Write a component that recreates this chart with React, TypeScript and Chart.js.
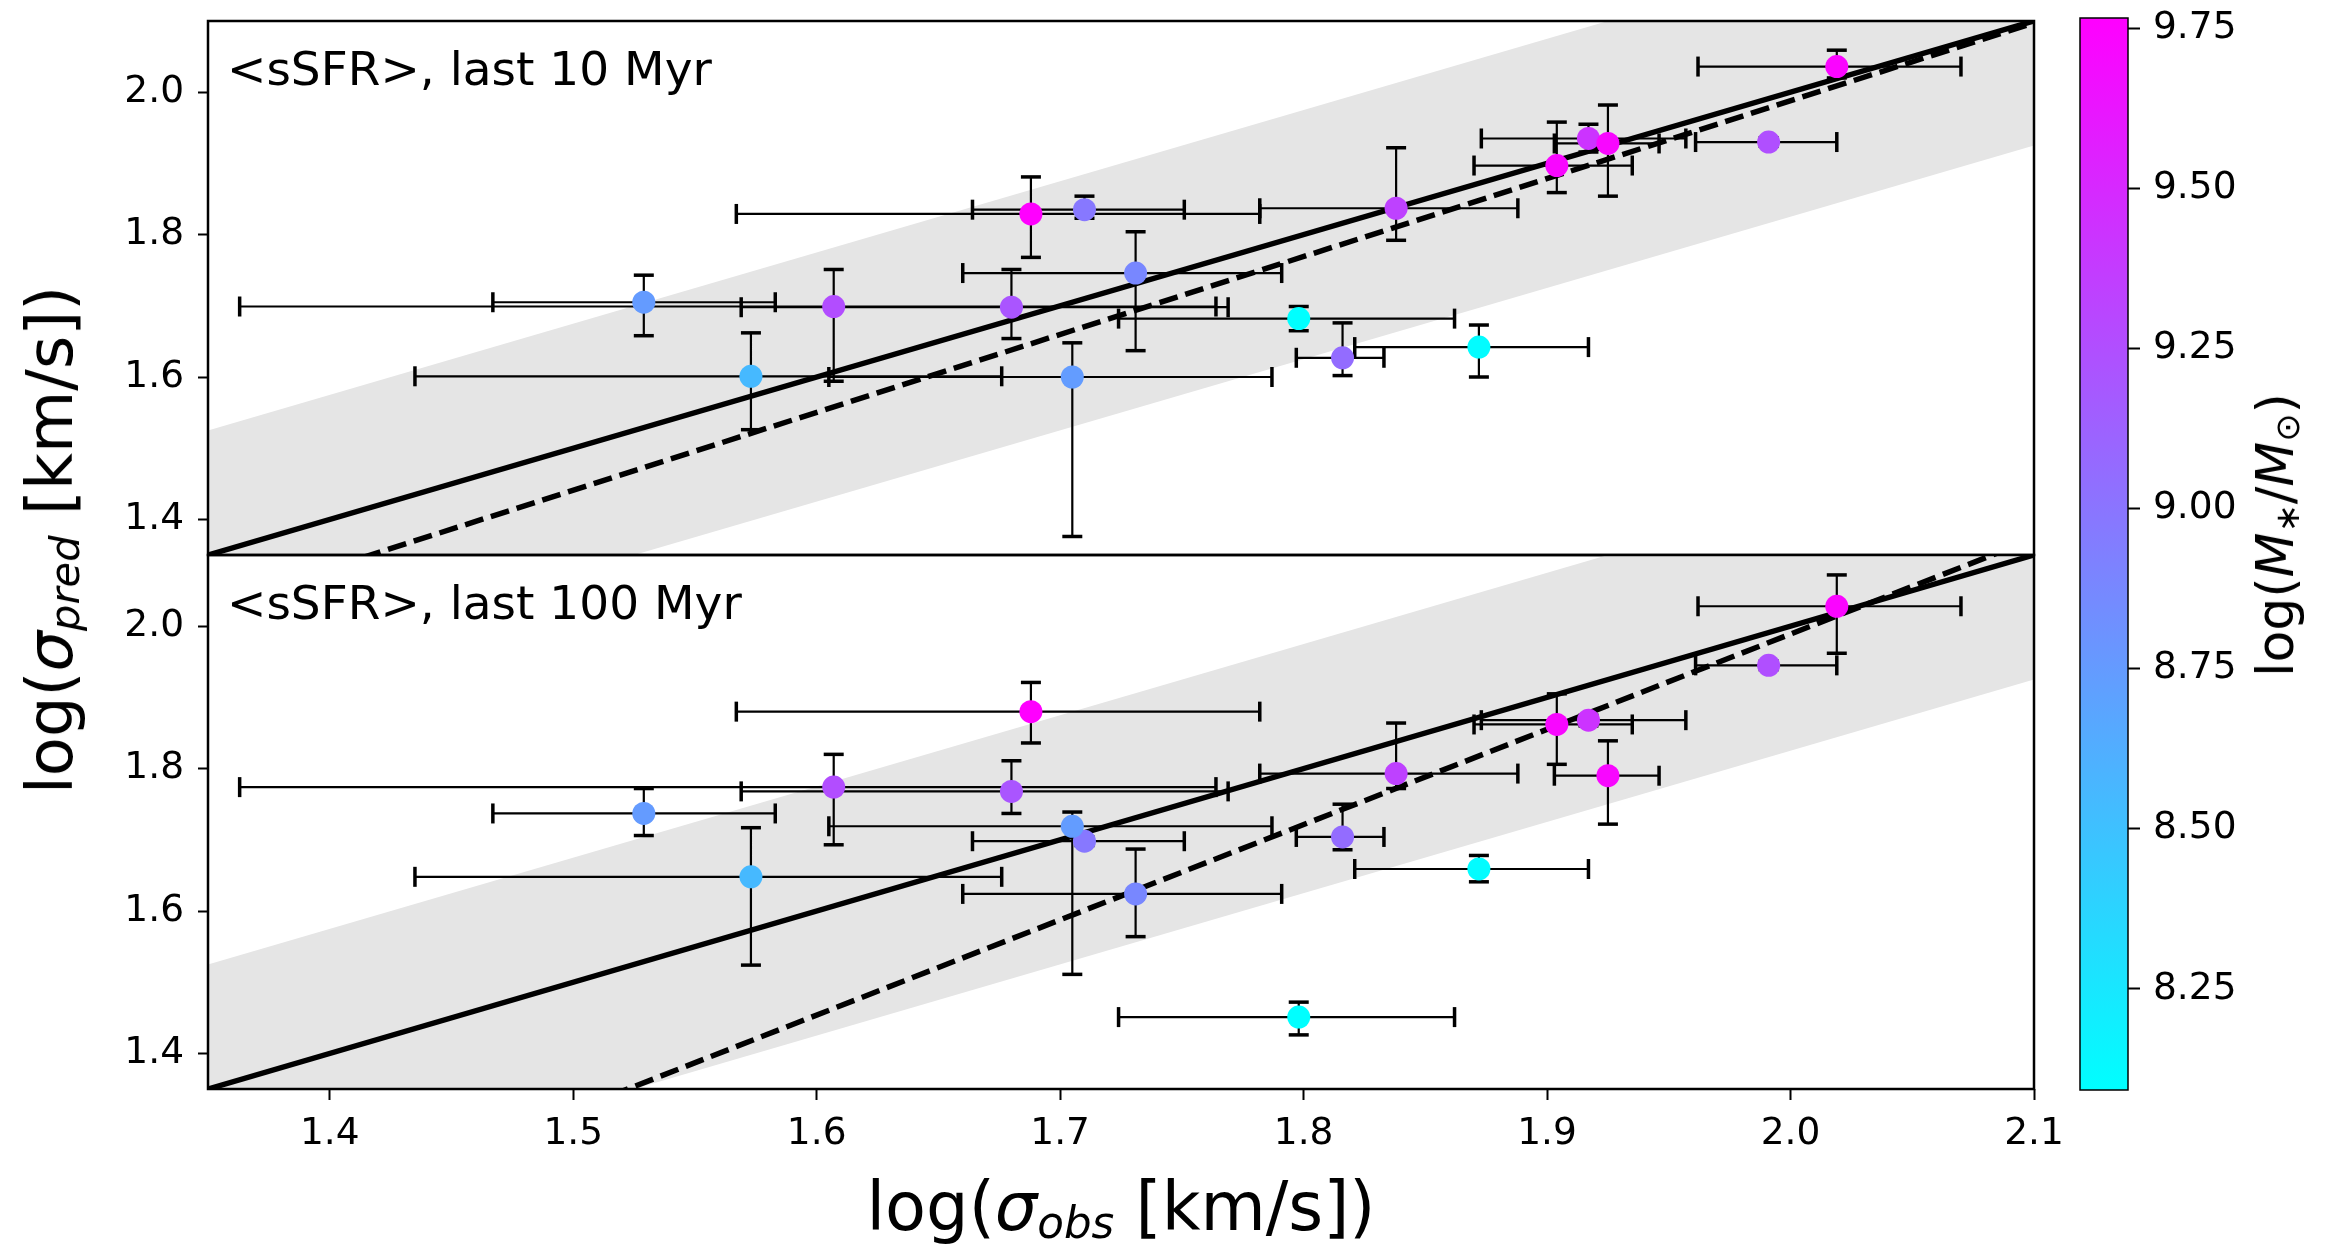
import React, { useEffect, useRef } from 'react';
import { Chart, registerables } from 'chart.js';

Chart.register(...registerables);

const FONT = '"DejaVu Sans", sans-serif';

// Axis range shared by σ_obs and σ_pred (log km/s)
const AXIS_MIN = 1.35;
const AXIS_MAX = 2.1;
const X_TICKS = [1.4, 1.5, 1.6, 1.7, 1.8, 1.9, 2.0, 2.1];
const Y_TICKS = [1.4, 1.6, 1.8, 2.0];
const MASS_TICKS = [8.25, 8.5, 8.75, 9.0, 9.25, 9.5, 9.75];

// Observed velocity dispersion and its error-bar ends
const SIGMA_OBS = [1.529, 1.573, 1.607, 1.688, 1.68, 1.71, 1.705, 1.731, 1.798, 1.816, 1.838, 1.872, 1.904, 1.917, 1.925, 1.991, 2.019];
const SIGMA_OBS_LO = [1.467, 1.435, 1.363, 1.567, 1.569, 1.664, 1.605, 1.66, 1.724, 1.797, 1.782, 1.821, 1.87, 1.873, 1.903, 1.961, 1.962];
const SIGMA_OBS_HI = [1.583, 1.676, 1.764, 1.782, 1.769, 1.751, 1.787, 1.791, 1.862, 1.833, 1.888, 1.917, 1.935, 1.957, 1.946, 2.019, 2.07];

// Stellar mass, log(M*/Msun)
const LOG_MSTAR = [8.75, 8.55, 9.26, 9.766, 9.21, 8.98, 8.74, 8.88, 8.092, 9.06, 9.34, 8.11, 9.72, 9.43, 9.72, 9.25, 9.73];

// Predicted dispersion from <sSFR> over the last 10 Myr
const PRED_10 = [1.705, 1.601, 1.699, 1.829, 1.698, 1.835, 1.6, 1.746, 1.682, 1.627, 1.837, 1.642, 1.897, 1.935, 1.928, 1.93, 2.036];
const PRED_10_LO = [1.658, 1.526, 1.594, 1.768, 1.654, 1.823, 1.376, 1.637, 1.665, 1.602, 1.792, 1.6, 1.859, 1.916, 1.854, 1.924, 2.02];
const PRED_10_HI = [1.743, 1.662, 1.751, 1.881, 1.751, 1.854, 1.648, 1.804, 1.699, 1.676, 1.922, 1.673, 1.958, 1.955, 1.982, 1.936, 2.059];

// Predicted dispersion from <sSFR> over the last 100 Myr
const PRED_100 = [1.737, 1.648, 1.774, 1.88, 1.768, 1.698, 1.719, 1.624, 1.451, 1.704, 1.793, 1.659, 1.862, 1.868, 1.79, 1.945, 2.028];
const PRED_100_LO = [1.706, 1.524, 1.693, 1.836, 1.737, 1.692, 1.511, 1.564, 1.426, 1.686, 1.772, 1.641, 1.806, 1.86, 1.722, 1.939, 1.962];
const PRED_100_HI = [1.772, 1.717, 1.82, 1.921, 1.811, 1.704, 1.739, 1.687, 1.472, 1.75, 1.864, 1.678, 1.905, 1.875, 1.839, 1.951, 2.072];

// Scatter band around the 1:1 relation and best-fit lines
const SCATTER_HALF_WIDTH = 0.175;
const FIT_10 = { slope: 1.094, intercept: -0.2 };
const FIT_100 = { slope: 1.338, intercept: -0.687 };

const MASS_MIN = Math.min(...LOG_MSTAR);
const MASS_MAX = Math.max(...LOG_MSTAR);

// Layout (px)
const PLOT_LEFT = 208;
const PANEL_TOP = 21;
const PANEL_SPLIT = 555;
const PLOT_BOTTOM = 1089;
const MAIN_W = 2100;
const PLOT_RIGHT = 2034;

const TICK_FONT = { family: FONT, size: 37.5 };
const BAND_COLOR = 'rgb(229,229,229)';

// matplotlib "cool" colormap
function coolColor(m: number): string {
  const t = Math.min(1, Math.max(0, (m - MASS_MIN) / (MASS_MAX - MASS_MIN)));
  return `rgb(${Math.round(255 * t)}, ${Math.round(255 * (1 - t))}, 255)`;
}

// keep the plot box exactly where the layout padding puts it
function noLabelPadding(s: any) {
  s.paddingTop = 0;
  s.paddingBottom = 0;
  s.paddingLeft = 0;
  s.paddingRight = 0;
}

const framePlugin = {
  id: 'frame',
  afterDraw(chart: any) {
    const { ctx, chartArea: a } = chart;
    ctx.save();
    ctx.strokeStyle = '#000';
    ctx.lineWidth = 2.5;
    ctx.strokeRect(a.left, a.top, a.right - a.left, a.bottom - a.top);
    ctx.restore();
  },
};

const panelLabelPlugin = {
  id: 'panelLabel',
  afterDatasetsDraw(chart: any, _args: any, opts: any) {
    const { ctx, chartArea } = chart;
    ctx.save();
    ctx.font = `47px ${FONT}`;
    ctx.fillStyle = '#000';
    ctx.textBaseline = 'alphabetic';
    ctx.textAlign = 'left';
    ctx.fillText(opts.text, chartArea.left + 19, chartArea.top + 64);
    ctx.restore();
  },
};

const colorbarPlugin = {
  id: 'colorbarFill',
  beforeDatasetsDraw(chart: any) {
    const { ctx, chartArea: a, scales } = chart;
    const y = scales.y;
    const g = ctx.createLinearGradient(0, y.getPixelForValue(MASS_MIN), 0, y.getPixelForValue(MASS_MAX));
    g.addColorStop(0, coolColor(MASS_MIN));
    g.addColorStop(1, coolColor(MASS_MAX));
    ctx.save();
    ctx.fillStyle = g;
    ctx.fillRect(a.left, a.top, a.right - a.left, a.bottom - a.top);
    ctx.strokeStyle = '#000';
    ctx.lineWidth = 1.5;
    ctx.strokeRect(a.left, a.top, a.right - a.left, a.bottom - a.top);
    ctx.restore();
  },
};

function lineThrough(slope: number, intercept: number) {
  return [AXIS_MIN, AXIS_MAX].map((x) => ({ x, y: slope * x + intercept }));
}

function panelConfig(p: {
  pred: number[];
  lo: number[];
  hi: number[];
  fit: { slope: number; intercept: number };
  label: string;
  showX: boolean;
  padTop: number;
  padBottom: number;
  xHeight: number;
}) {
  const { pred, lo, hi, fit } = p;
  const gap = { x: NaN, y: NaN };
  const markers = SIGMA_OBS.map((x, i) => ({ x, y: pred[i] }));
  const bars = SIGMA_OBS.flatMap((x, i) => [
    { x: SIGMA_OBS_LO[i], y: pred[i] },
    { x: SIGMA_OBS_HI[i], y: pred[i] },
    gap,
    { x, y: lo[i] },
    { x, y: hi[i] },
    gap,
  ]);
  const xCaps = SIGMA_OBS.flatMap((_x, i) => [
    { x: SIGMA_OBS_LO[i], y: pred[i] },
    { x: SIGMA_OBS_HI[i], y: pred[i] },
  ]);
  const yCaps = SIGMA_OBS.flatMap((x, i) => [
    { x, y: lo[i] },
    { x, y: hi[i] },
  ]);

  return {
    type: 'line' as const,
    data: {
      datasets: [
        { data: lineThrough(1, -SCATTER_HALF_WIDTH), borderWidth: 0, pointRadius: 0, fill: false, order: 6 },
        {
          data: lineThrough(1, SCATTER_HALF_WIDTH),
          borderWidth: 0,
          pointRadius: 0,
          fill: '-1',
          backgroundColor: BAND_COLOR,
          order: 5,
        },
        { data: lineThrough(1, 0), borderColor: '#000', borderWidth: 5.5, pointRadius: 0, clip: 0, order: 4 },
        {
          data: lineThrough(fit.slope, fit.intercept),
          borderColor: '#000',
          borderWidth: 5.5,
          borderDash: [19, 8],
          pointRadius: 0,
          clip: 0,
          order: 3,
        },
        { data: bars, borderColor: '#000', borderWidth: 2.2, pointRadius: 0, spanGaps: false, order: 2 },
        {
          data: yCaps,
          showLine: false,
          pointStyle: 'line',
          pointRadius: 10,
          pointBorderWidth: 3.5,
          pointBorderColor: '#000',
          pointRotation: 0,
          order: 1,
        },
        {
          data: xCaps,
          showLine: false,
          pointStyle: 'line',
          pointRadius: 10,
          pointBorderWidth: 3.5,
          pointBorderColor: '#000',
          pointRotation: 90,
          order: 1,
        },
        {
          data: markers,
          showLine: false,
          pointStyle: 'circle',
          pointRadius: 11.5,
          pointBorderWidth: 0,
          pointBackgroundColor: LOG_MSTAR.map(coolColor),
          order: 0,
        },
      ],
    },
    options: {
      responsive: false,
      animation: false,
      devicePixelRatio: 1,
      events: [],
      layout: {
        autoPadding: false,
        padding: { left: 0, right: MAIN_W - PLOT_RIGHT, top: p.padTop, bottom: p.padBottom },
      },
      plugins: {
        legend: { display: false },
        tooltip: { enabled: false },
        panelLabel: { text: p.label },
      },
      scales: {
        x: {
          type: 'linear',
          min: AXIS_MIN,
          max: AXIS_MAX,
          display: p.showX,
          afterBuildTicks: (s: any) => {
            s.ticks = X_TICKS.map((value) => ({ value }));
          },
          afterFit: (s: any) => {
            s.height = p.xHeight;
            noLabelPadding(s);
          },
          ticks: {
            font: TICK_FONT,
            color: '#000',
            padding: 12,
            maxRotation: 0,
            autoSkip: false,
            callback: (v: any) => Number(v).toFixed(1),
          },
          grid: { drawOnChartArea: false, drawTicks: true, tickLength: 11, tickWidth: 2, tickColor: '#000' },
          border: { display: false },
        },
        y: {
          type: 'linear',
          min: AXIS_MIN,
          max: AXIS_MAX,
          afterBuildTicks: (s: any) => {
            s.ticks = Y_TICKS.map((value) => ({ value }));
          },
          afterFit: (s: any) => {
            s.width = PLOT_LEFT;
            noLabelPadding(s);
          },
          ticks: {
            font: TICK_FONT,
            color: '#000',
            padding: 14,
            callback: (v: any) => Number(v).toFixed(1),
          },
          grid: { drawOnChartArea: false, drawTicks: true, tickLength: 10, tickWidth: 2, tickColor: '#000' },
          border: { display: false },
        },
      },
    },
    plugins: [panelLabelPlugin, framePlugin],
  };
}

const CB_LEFT = 2070;
const CB_W = 258;
const CB_BAR_W = 48;
const CB_TOP = 18;
const CB_BOTTOM = 1090;

function colorbarConfig() {
  return {
    type: 'line' as const,
    data: { datasets: [] },
    options: {
      responsive: false,
      animation: false,
      devicePixelRatio: 1,
      events: [],
      layout: { autoPadding: false, padding: { left: 10, right: 0, top: CB_TOP, bottom: 1244 - CB_BOTTOM } },
      plugins: { legend: { display: false }, tooltip: { enabled: false } },
      scales: {
        x: { type: 'linear', display: false, min: 0, max: 1 },
        y: {
          type: 'linear',
          position: 'right',
          min: MASS_MIN,
          max: MASS_MAX,
          afterBuildTicks: (s: any) => {
            s.ticks = MASS_TICKS.map((value) => ({ value }));
          },
          afterFit: (s: any) => {
            s.width = CB_W - 10 - CB_BAR_W;
            noLabelPadding(s);
          },
          ticks: {
            font: TICK_FONT,
            color: '#000',
            padding: 13,
            callback: (v: any) => Number(v).toFixed(2),
          },
          grid: { drawOnChartArea: false, drawTicks: true, tickLength: 12, tickWidth: 2, tickColor: '#000' },
          border: { display: false },
        },
      },
    },
    plugins: [colorbarPlugin],
  };
}

const subStyle: React.CSSProperties = {
  fontSize: '0.65em',
  fontStyle: 'italic',
  position: 'relative',
  top: '0.18em',
};

export default function App() {
  const topRef = useRef<HTMLCanvasElement>(null);
  const botRef = useRef<HTMLCanvasElement>(null);
  const cbRef = useRef<HTMLCanvasElement>(null);

  useEffect(() => {
    const charts = [
      new Chart(
        topRef.current as HTMLCanvasElement,
        panelConfig({
          pred: PRED_10,
          lo: PRED_10_LO,
          hi: PRED_10_HI,
          fit: FIT_10,
          label: '<sSFR>, last 10 Myr',
          showX: false,
          padTop: PANEL_TOP,
          padBottom: 560 - PANEL_SPLIT,
          xHeight: 0,
        }) as any
      ),
      new Chart(
        botRef.current as HTMLCanvasElement,
        panelConfig({
          pred: PRED_100,
          lo: PRED_100_LO,
          hi: PRED_100_HI,
          fit: FIT_100,
          label: '<sSFR>, last 100 Myr',
          showX: true,
          padTop: PANEL_SPLIT - 550,
          padBottom: 0,
          xHeight: 1244 - PLOT_BOTTOM,
        }) as any
      ),
      new Chart(cbRef.current as HTMLCanvasElement, colorbarConfig() as any),
    ];
    return () => charts.forEach((c) => c.destroy());
  }, []);

  return (
    <div
      style={{
        position: 'fixed',
        left: 0,
        top: 0,
        width: 2328,
        height: 1244,
        background: '#fff',
        overflow: 'hidden',
        fontFamily: FONT,
        color: '#000',
      }}
    >
      <canvas ref={topRef} width={MAIN_W} height={560} style={{ position: 'absolute', left: 0, top: 0 }} />
      <canvas ref={botRef} width={MAIN_W} height={694} style={{ position: 'absolute', left: 0, top: 550 }} />
      <canvas ref={cbRef} width={CB_W} height={1244} style={{ position: 'absolute', left: CB_LEFT, top: 0 }} />

      <div
        style={{
          position: 'absolute',
          left: 1121,
          top: 1174,
          transform: 'translateX(-50%)',
          fontSize: 67,
          lineHeight: 1,
          whiteSpace: 'nowrap',
        }}
      >
        log(<i>σ</i>
        <span style={subStyle}>obs</span> [km/s])
      </div>

      <div
        style={{
          position: 'absolute',
          left: 50,
          top: 540,
          transform: 'translate(-50%, -50%) rotate(-90deg)',
          fontSize: 64,
          lineHeight: 1,
          whiteSpace: 'nowrap',
        }}
      >
        log(<i>σ</i>
        <span style={subStyle}>pred</span> [km/s])
      </div>

      <div
        style={{
          position: 'absolute',
          left: 2275,
          top: 535,
          transform: 'translate(-50%, -50%) rotate(-90deg)',
          fontSize: 52,
          lineHeight: 1,
          whiteSpace: 'nowrap',
        }}
      >
        log(<i>M</i>
        <span style={{ ...subStyle, fontStyle: 'normal' }}>∗</span>/<i>M</i>
        <span style={{ ...subStyle, fontStyle: 'normal' }}>⊙</span>)
      </div>
    </div>
  );
}
